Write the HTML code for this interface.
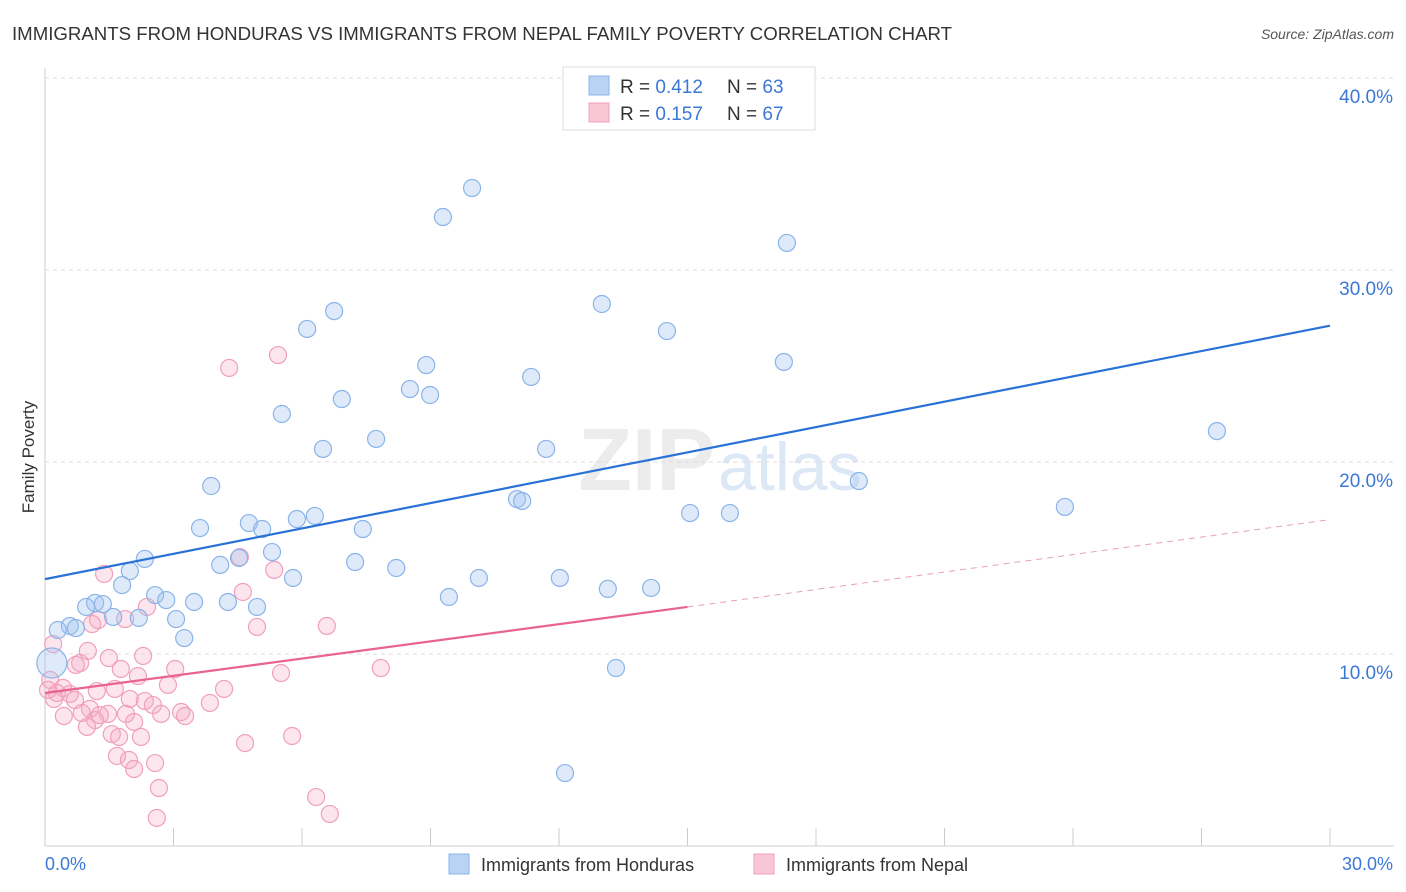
<!DOCTYPE html>
<html><head><meta charset="utf-8">
<style>
body{margin:0;background:#fff;font-family:"Liberation Sans",sans-serif;}
#wrap{position:relative;width:1406px;height:892px;overflow:hidden;}
svg text{font-family:"Liberation Sans",sans-serif;}
</style></head>
<body>
<div id="wrap">
<svg id="svg" width="1406" height="892">
<text x="12" y="40" font-size="18" fill="#333" textLength="940" lengthAdjust="spacingAndGlyphs">IMMIGRANTS FROM HONDURAS VS IMMIGRANTS FROM NEPAL FAMILY POVERTY CORRELATION CHART</text>
<text x="1394" y="39" font-size="14" fill="#555" font-style="italic" text-anchor="end">Source: ZipAtlas.com</text>
<text x="715" y="490" font-size="88" fill="#ececec" text-anchor="end" font-family="Liberation Serif" font-weight="bold">ZIP</text>
<text x="718" y="490" font-size="68" fill="#dde8f6">atlas</text>
<text transform="translate(34,457) rotate(-90)" font-size="17" fill="#333" text-anchor="middle">Family Poverty</text>
<g id="grid"></g><g id="pts"></g><g id="lines"></g>
<g>
<rect x="563" y="67" width="252" height="63" fill="#fff" stroke="#ddd"/>
<rect x="589" y="76" width="20" height="19" fill="#b9d3f5" stroke="#8ab4e8"/>
<rect x="589" y="103" width="20" height="19" fill="#f9c6d6" stroke="#f0a0bc"/>
<text x="620" y="93" font-size="19" fill="#333">R = <tspan fill="#3b78d8">0.412</tspan><tspan x="727">N = </tspan><tspan fill="#3b78d8">63</tspan></text>
<text x="620" y="120" font-size="19" fill="#333">R = <tspan fill="#3b78d8">0.157</tspan><tspan x="727">N = </tspan><tspan fill="#3b78d8">67</tspan></text>
</g>
<g>
<rect x="449" y="854" width="20" height="20" fill="#b9d3f5" stroke="#8ab4e8"/>
<text x="481" y="871" font-size="18" fill="#333">Immigrants from Honduras</text>
<rect x="754" y="854" width="20" height="20" fill="#f9c6d6" stroke="#f0a0bc"/>
<text x="786" y="871" font-size="18" fill="#333">Immigrants from Nepal</text>
</g>
</svg>
</div>
<script>
const yTicks=[10,20,30,40];
const yTickLabels=["10.0%","20.0%","30.0%","40.0%"];
const xTicks=[0,3,6,9,12,15,18,21,24,27,30];
const hondurasX=[9.97,9.29,17.32,13.0,6.75,6.12,14.52,8.9,17.25,11.35,8.52,8.99,6.93,5.53,7.73,6.49,11.7,27.36,3.88,19.0,11.02,11.14,23.81,15.06,15.99,5.88,6.3,4.76,3.62,5.07,7.42,2.33,5.3,4.53,4.09,7.24,8.2,1.98,5.79,10.13,12.02,1.8,13.14,14.15,2.57,9.43,2.83,3.48,4.27,1.17,1.35,0.96,4.95,1.59,2.19,3.06,0.58,0.72,0.3,3.25,0.16,13.33,12.14];
const hondurasY=[34.27,32.76,31.41,28.23,27.86,26.93,26.82,25.05,25.21,24.43,23.8,23.49,23.28,22.5,21.2,20.68,20.68,21.61,18.75,19.01,18.07,17.97,17.66,17.34,17.34,17.03,17.19,16.82,16.56,16.51,16.51,14.95,15.31,15.0,14.64,14.79,14.48,14.32,13.96,13.96,13.96,13.59,13.39,13.44,13.07,12.97,12.81,12.71,12.71,12.66,12.6,12.45,12.45,11.93,11.88,11.82,11.46,11.35,11.25,10.83,9.53,9.27,3.8];
const nepalX=[5.44,4.3,4.55,1.38,5.35,4.62,2.38,1.87,1.24,1.1,4.95,6.58,0.19,1.0,2.29,1.49,0.82,0.72,1.77,3.04,7.84,2.17,5.51,0.12,2.87,4.18,1.21,1.63,0.42,0.28,0.58,1.98,2.33,2.52,3.85,0.21,0.7,1.05,3.18,3.27,1.89,0.86,2.71,0.44,1.47,1.17,2.08,0.98,1.56,2.24,1.73,5.77,4.67,1.68,1.96,2.57,2.08,2.66,6.33,2.61,6.65,0.07,1.28];
const nepalY=[25.57,24.9,15.05,14.17,14.38,13.23,12.45,11.82,11.77,11.56,11.41,11.46,10.52,10.16,9.9,9.79,9.53,9.43,9.22,9.22,9.27,8.85,9.01,8.65,8.39,8.18,8.07,8.18,8.23,7.97,7.92,7.66,7.55,7.34,7.45,7.66,7.6,7.14,6.98,6.77,6.88,6.93,6.88,6.77,6.88,6.56,6.46,6.2,5.83,5.68,5.68,5.73,5.36,4.69,4.48,4.32,4.01,3.02,2.55,1.46,1.67,8.13,6.82];
const hondurasTrend=[13.9,27.1];
const nepalTrend=[7.97,12.45,17.0];
const nepalTrendSolidEnd=15;

const X=v=>45+v*(1285/30);
const Y=v=>846-v*19.2;
const NS="http://www.w3.org/2000/svg";
function mk(tag,attrs,parent){const e=document.createElementNS(NS,tag);for(const k in attrs)e.setAttribute(k,attrs[k]);parent.appendChild(e);return e;}
const grid=document.getElementById('grid'),pts=document.getElementById('pts'),lines=document.getElementById('lines');
yTicks.forEach((t,i)=>{
 const l=mk('line',{x1:45,x2:1394,y1:Y(t),y2:Y(t),stroke:'#ddd','stroke-dasharray':'4,4'},grid);
 
 
 const tx=mk('text',{x:1393,y:Y(t)+25,'font-size':19,fill:'#3b78d8','text-anchor':'end'},grid);
 tx.textContent=yTickLabels[i];
 
 
});
const ax=mk('line',{x1:45,x2:1394,y1:846,y2:846,stroke:'#ccc'},grid);


const ay=mk('line',{x1:45,x2:45,y1:68,y2:846,stroke:'#ccc'},grid);


xTicks.forEach(t=>{
 const l=mk('line',{x1:X(t),x2:X(t),y1:828,y2:846,stroke:'#ccc'},grid);
 
 
});
const xl0=mk('text',{x:45,y:870,'font-size':18,fill:'#3b78d8'},grid);xl0.textContent='0.0%';


const xl1=mk('text',{x:1393,y:870,'font-size':18,fill:'#3b78d8','text-anchor':'end'},grid);xl1.textContent='30.0%';


nepalX.forEach((x,i)=>{
 const c=mk('circle',{cx:X(x),cy:Y(nepalY[i]),r:8.5,fill:'rgba(244,170,195,0.3)',stroke:'#f0a0bc','stroke-width':1.2},pts);
 
 
});
hondurasX.forEach((x,i)=>{
 const big=i===60;
 const c=mk('circle',{cx:X(x),cy:Y(hondurasY[i]),r:big?15:8.5,fill:'rgba(160,196,240,0.35)',stroke:'#8ab4e8','stroke-width':1.2},pts);
 
 
});
const hl=mk('line',{x1:X(0),y1:Y(hondurasTrend[0]),x2:X(30),y2:Y(hondurasTrend[1]),stroke:'#2a72d6','stroke-width':2.2},lines);


const nl=mk('line',{x1:X(0),y1:Y(nepalTrend[0]),x2:X(nepalTrendSolidEnd),y2:Y(nepalTrend[1]),stroke:'#e8648f','stroke-width':2.2},lines);


const nd=mk('line',{x1:X(nepalTrendSolidEnd),y1:Y(nepalTrend[1]),x2:X(30),y2:Y(nepalTrend[2]),stroke:'#e8a0b8','stroke-width':1,'stroke-dasharray':'6,5'},lines);


</script>
</body></html>
